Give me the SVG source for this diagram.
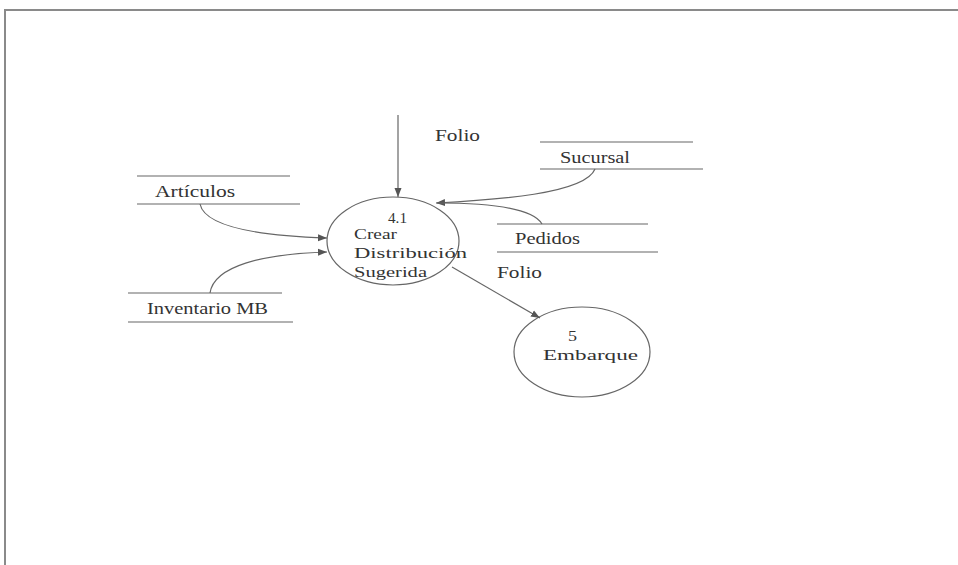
<svg xmlns="http://www.w3.org/2000/svg" width="958" height="565" viewBox="0 0 958 565">
<defs>
<style>
.frame{stroke:#8a8a8a;stroke-width:2;fill:none}
.ln{stroke:#666;stroke-width:1.2;fill:none}
.proc{stroke:#666;stroke-width:1.2;fill:none}
.t{fill:#333;font-size:16px}
.tp{fill:#333;font-size:15px}
</style>
<marker id="ah" markerUnits="userSpaceOnUse" markerWidth="10" markerHeight="8" refX="9" refY="4" orient="auto">
<path d="M0,0.5 L9,4 L0,7.5 Z" fill="#555"/>
</marker>
</defs>
<rect width="958" height="565" fill="#fff"/>
<path class="frame" d="M5,565 L5,10 L958,10"/>
<g font-family="'Liberation Serif', 'Times New Roman', 'DejaVu Serif', serif">
<g id="store-articulos">
<line class="ln" x1="137" y1="176" x2="290" y2="176"/>
<line class="ln" x1="137" y1="204" x2="300" y2="204"/>
<text class="t" x="155" y="197" textLength="80" lengthAdjust="spacingAndGlyphs">Artículos</text>
</g>
<g id="store-inventario">
<line class="ln" x1="128" y1="293" x2="282" y2="293"/>
<line class="ln" x1="128" y1="322" x2="293" y2="322"/>
<text class="t" x="147" y="314" textLength="121" lengthAdjust="spacingAndGlyphs">Inventario MB</text>
</g>
<g id="store-sucursal">
<line class="ln" x1="540" y1="142" x2="693" y2="142"/>
<line class="ln" x1="540" y1="169" x2="703" y2="169"/>
<text class="t" x="560" y="163" textLength="70" lengthAdjust="spacingAndGlyphs">Sucursal</text>
</g>
<g id="store-pedidos">
<line class="ln" x1="497" y1="224" x2="648" y2="224"/>
<line class="ln" x1="497" y1="252" x2="658" y2="252"/>
<text class="t" x="515" y="244" textLength="65" lengthAdjust="spacingAndGlyphs">Pedidos</text>
</g>
<g id="proc-4-1">
<ellipse class="proc" cx="393" cy="241" rx="66" ry="44"/>
<text class="tp" x="388" y="223" textLength="19" lengthAdjust="spacingAndGlyphs">4.1</text>
<text class="tp" x="354" y="239" textLength="43" lengthAdjust="spacingAndGlyphs">Crear</text>
<text class="tp" x="354" y="258" textLength="113" lengthAdjust="spacingAndGlyphs">Distribución</text>
<text class="tp" x="354" y="277" textLength="73" lengthAdjust="spacingAndGlyphs">Sugerida</text>
</g>
<g id="proc-5">
<ellipse class="proc" cx="582" cy="352" rx="68" ry="45"/>
<text class="tp" x="568" y="341" textLength="9" lengthAdjust="spacingAndGlyphs">5</text>
<text class="tp" x="543" y="360" textLength="95" lengthAdjust="spacingAndGlyphs">Embarque</text>
</g>
<g id="connectors">
<path class="ln" d="M398,115 L398,197" marker-end="url(#ah)"/>
<path class="ln" d="M200,204 C205,228 265,236 327,238" marker-end="url(#ah)"/>
<path class="ln" d="M210,293 C214,266 262,254 327,252" marker-end="url(#ah)"/>
<path class="ln" d="M595,169 C585,194 495,200 436,203" marker-end="url(#ah)"/>
<path class="ln" d="M542,224 C532,207 485,203 437,203"/>
<path class="ln" d="M452,267 L540,318" marker-end="url(#ah)"/>
<text class="t" x="435" y="141" textLength="45" lengthAdjust="spacingAndGlyphs">Folio</text>
<text class="t" x="497" y="278" textLength="45" lengthAdjust="spacingAndGlyphs">Folio</text>
</g>
</g>
</svg>
